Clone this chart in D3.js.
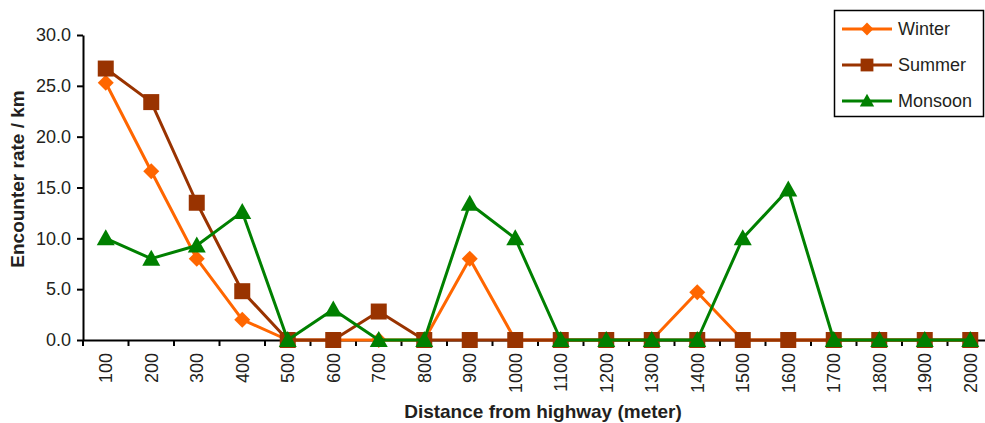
<!DOCTYPE html>
<html>
<head>
<meta charset="utf-8">
<script src="https://cdn.jsdelivr.net/npm/d3@7"></script>
<style>
  body { margin: 0; background: #fff; }
  svg { font-family: "Liberation Sans", Arial, sans-serif; }
</style>
</head>
<body>
<div id="chart"></div>
<script>
const distances = ["100","200","300","400","500","600","700","800","900","1000",
                   "1100","1200","1300","1400","1500","1600","1700","1800","1900","2000"];
const winter  = [25.3,16.6,8.0,2.0,0,0,0,0,8.0,0,0,0,0,4.7,0,0,0,0,0,0];
const summer  = [26.7,23.4,13.5,4.8,0,0,2.8,0,0,0,0,0,0,0,0,0,0,0,0,0];
const monsoon = [10.0,8.0,9.3,12.6,0,3.0,0,0,13.4,10.0,0,0,0,0,10.0,14.8,0,0,0,0];
const yTicks = [0,5,10,15,20,25,30];

const width = 985, height = 423;
const plotLeft = 83, plotRight = 993, plotTop = 35, plotBottom = 340;
const textCol = "#231f20";

const series = [
  {name: "Winter",  values: winter,  color: "#ff6600", shape: "diamond"},
  {name: "Summer",  values: summer,  color: "#993300", shape: "square"},
  {name: "Monsoon", values: monsoon, color: "#008000", shape: "triangle"}
];

const svg = d3.select("#chart").append("svg")
  .attr("width", width).attr("height", height);

const x = d3.scaleBand().domain(distances).range([plotLeft, plotRight]);
const y = d3.scaleLinear().domain([0, 30]).range([plotBottom, plotTop]);

function marker(shape){
  if(shape === "diamond") return "M0,-8L8,0L0,8L-8,0Z";
  if(shape === "square") return "M-8,-8H8V8H-8Z";
  return "M0,-9L9,7H-9Z";
}

// y axis
const yAxis = svg.append("g")
  .attr("transform", "translate(" + plotLeft + ",0)")
  .call(d3.axisLeft(y).tickValues(yTicks).tickSize(6).tickSizeOuter(0).tickFormat(d3.format(".1f")));
yAxis.select(".domain").attr("stroke", "#000").attr("stroke-width", 2);
yAxis.selectAll(".tick line").attr("stroke", "#000").attr("stroke-width", 2);
yAxis.selectAll("text").attr("font-size", 18).attr("fill", textCol)
  .attr("font-family", "Liberation Sans, Arial, sans-serif").attr("x", -12);

// x axis
const xAxis = svg.append("g")
  .attr("transform", "translate(0," + plotBottom + ")")
  .call(d3.axisBottom(x).tickSize(0).tickSizeOuter(0));
xAxis.select(".domain").attr("stroke", "#000").attr("stroke-width", 2);
xAxis.selectAll(".tick line").remove();
xAxis.selectAll("text")
  .attr("font-size", 18).attr("fill", textCol)
  .attr("font-family", "Liberation Sans, Arial, sans-serif")
  .attr("transform", "rotate(-90)")
  .attr("x", -13).attr("y", 0).attr("dy", "0.35em")
  .attr("text-anchor", "end");
// tick marks between categories
const bounds = distances.map(d => x(d)).concat([plotRight]);
svg.append("g").selectAll("line").data(bounds).enter().append("line")
  .attr("x1", d => d).attr("x2", d => d)
  .attr("y1", plotBottom).attr("y2", plotBottom + 6)
  .attr("stroke", "#000").attr("stroke-width", 2);

// lines and markers
const line = d3.line()
  .x((d, i) => x(distances[i]) + x.bandwidth() / 2)
  .y(d => y(d));

series.forEach(s => {
  svg.append("path")
    .datum(s.values)
    .attr("fill", "none")
    .attr("stroke", s.color)
    .attr("stroke-width", 3)
    .attr("stroke-linejoin", "round")
    .attr("d", line);
  svg.append("g").selectAll("path").data(s.values).enter().append("path")
    .attr("d", marker(s.shape))
    .attr("fill", s.color)
    .attr("transform", (d, i) => "translate(" + (x(distances[i]) + x.bandwidth() / 2) + "," + y(d) + ")");
});

// axis titles
svg.append("text")
  .attr("x", 543).attr("y", 418)
  .attr("text-anchor", "middle")
  .attr("font-size", 19).attr("font-weight", "bold").attr("fill", textCol)
  .text("Distance from highway (meter)");
svg.append("text")
  .attr("transform", "translate(24,179) rotate(-90)")
  .attr("text-anchor", "middle")
  .attr("font-size", 19).attr("font-weight", "bold").attr("fill", textCol)
  .text("Encounter rate / km");

// legend
const legend = svg.append("g");
legend.append("rect")
  .attr("x", 834.5).attr("y", 10.5).attr("width", 149).attr("height", 106)
  .attr("fill", "#fff").attr("stroke", "#000").attr("stroke-width", 1.5);
series.forEach((s, i) => {
  const ly = 29 + i * 36;
  legend.append("line")
    .attr("x1", 842).attr("x2", 892).attr("y1", ly).attr("y2", ly)
    .attr("stroke", s.color).attr("stroke-width", 3);
  legend.append("path")
    .attr("d", marker(s.shape))
    .attr("fill", s.color)
    .attr("transform", "translate(867," + ly + ") scale(0.8)");
  legend.append("text")
    .attr("x", 898).attr("y", ly).attr("dy", "0.35em")
    .attr("font-size", 18).attr("fill", textCol)
    .text(s.name);
});
</script>
</body>
</html>
